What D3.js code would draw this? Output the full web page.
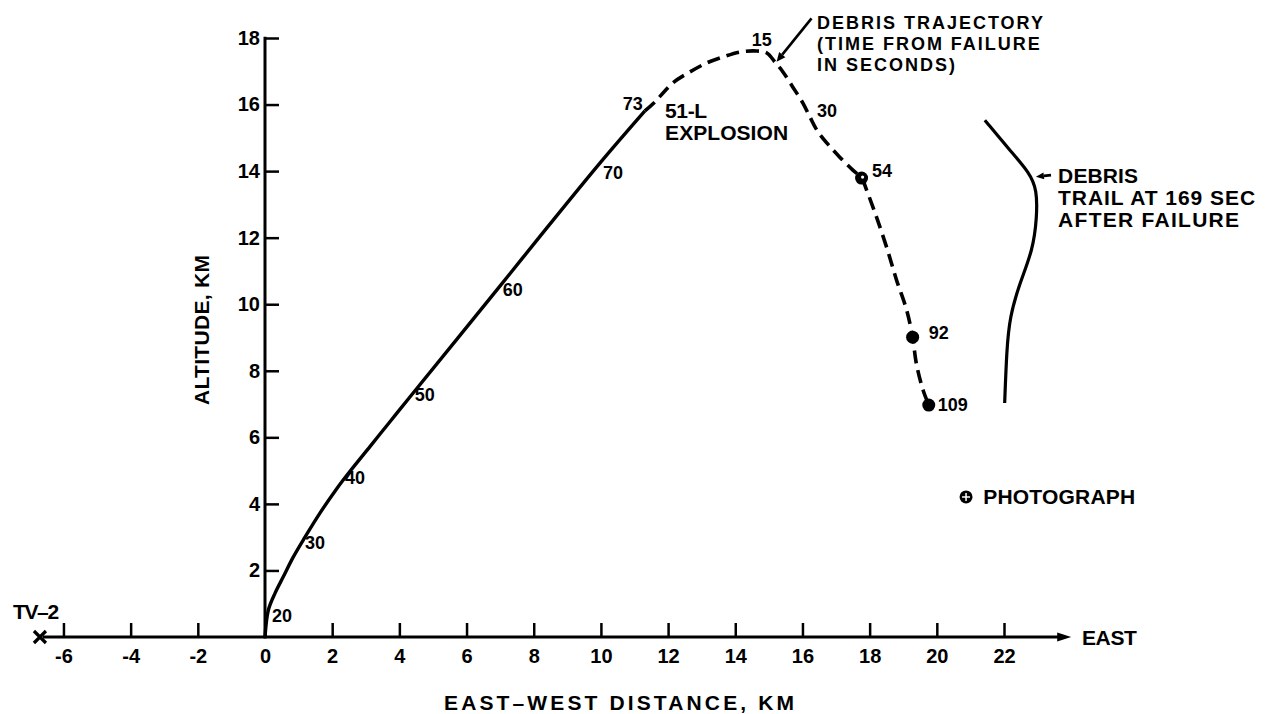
<!DOCTYPE html>
<html><head><meta charset="utf-8">
<script src="https://cdn.jsdelivr.net/npm/d3@7"></script>
<style>
html,body{margin:0;padding:0;background:#fff;}
svg{display:block;background:#fff;}
text{font-family:"Liberation Sans",Arial,Helvetica,sans-serif;font-weight:bold;fill:#000;}
</style></head><body>
<svg id="chart" width="1270" height="714"></svg>
<script>
// ---- data (km) ----
const xTicks = [-6,-4,-2,0,2,4,6,8,10,12,14,16,18,20,22];
const yTicks = [2,4,6,8,10,12,14,16,18];

// 51-L ascent (solid)
const ascentX = [0, 0.1, 0.3, 0.54, 0.84, 1.19, 1.64, 2.13, 2.53, 3.13, 3.72, 4.32, 7.0, 8.18, 9.97, 11.31];
const ascentY = [0, 0.81, 1.32, 1.8, 2.4, 3.0, 3.73, 4.45, 4.98, 5.73, 6.47, 7.22, 10.55, 12.03, 14.24, 15.81];
const ascentTimes = ["20","30","40","50","60","70","73"];
const ascentTimeX = [0.21, 1.19, 2.38, 4.46, 7.08, 10.06, 10.65];
const ascentTimeY = [0.45, 2.64, 4.6, 7.09, 10.25, 13.76, 15.84];

// debris trajectory (dashed)
const debrisX = [11.31, 11.61, 12.14, 12.65, 13.15, 13.63, 14.14, 14.64, 14.94, 15.18, 15.42, 15.71, 16.01, 16.22, 16.43, 16.73, 17.11, 17.5, 17.76, 17.91, 18.2, 18.5, 18.8, 19.1, 19.28, 19.39, 19.59, 19.76];
const debrisY = [15.81, 16.08, 16.65, 16.98, 17.25, 17.43, 17.58, 17.61, 17.55, 17.28, 16.98, 16.53, 16.05, 15.63, 15.23, 14.84, 14.42, 14.03, 13.79, 13.43, 12.63, 11.73, 10.73, 9.83, 9.01, 8.22, 7.42, 6.97];
const debrisTimes = ["15","30","54","92","109"];
const debrisTimeX = [14.49, 16.43, 18.07, 19.76, 20.03];
const debrisTimeY = [17.76, 15.63, 13.82, 8.95, 6.79];
const debrisMarkX = [17.76, 19.28, 19.76];
const debrisMarkY = [13.79, 9.01, 6.97];

// debris trail at 169 s
const trailX = [21.43, 22.17, 22.77, 22.98, 22.98, 22.86, 22.47, 22.17, 22.08, 22.02];
const trailY = [15.53, 14.63, 13.94, 13.43, 12.62, 11.63, 10.64, 9.62, 8.62, 7.03];

const photoX = [20.87], photoY = [4.21];
const tv2X = [-6.7], tv2Y = [0];

// ---- layout ----
const svg = d3.select("#chart");
const x = d3.scaleLinear().domain([0, 22]).range([265, 1004]);
const y = d3.scaleLinear().domain([0, 18]).range([637, 38]);
const FS = 21, TFS = 20, NFS = 18;

// x axis
const xAxis = d3.axisBottom(x).tickValues(xTicks).tickSizeInner(-14).tickSizeOuter(0).tickPadding(12)
  .tickFormat(d => d < 0 ? "-" + Math.abs(d) : String(d));
const gx = svg.append("g").attr("transform", `translate(0,${y(0)})`).call(xAxis);
gx.select(".domain").remove();
gx.selectAll(".tick line").attr("stroke", "#000").attr("stroke-width", 2.5);
gx.selectAll(".tick text").attr("font-size", TFS).attr("font-family", null);

// y axis
const yAxis = d3.axisLeft(y).tickValues(yTicks).tickSizeInner(-14).tickSizeOuter(0).tickPadding(5);
const gy = svg.append("g").attr("transform", `translate(${x(0)},0)`).call(yAxis);
gy.select(".domain").remove();
gy.selectAll(".tick line").attr("stroke", "#000").attr("stroke-width", 2.5);
gy.selectAll(".tick text").attr("font-size", TFS).attr("font-family", null);

// axis lines
const xEnd = 24.0;
svg.append("line").attr("x1", x(tv2X[0]) + 3).attr("x2", x(xEnd) - 6)
  .attr("y1", y(0)).attr("y2", y(0)).attr("stroke", "#000").attr("stroke-width", 3);
svg.append("path")
  .attr("d", `M${x(xEnd)},${y(0)} L${x(xEnd) - 14},${y(0) - 4.5} L${x(xEnd) - 14},${y(0) + 4.5} Z`)
  .attr("fill", "#000");
svg.append("line").attr("x1", x(0)).attr("x2", x(0)).attr("y1", y(0) + 1.5).attr("y2", y(18) - 1.2)
  .attr("stroke", "#000").attr("stroke-width", 3);

// curves
const line = d3.line().x(d => x(d[0])).y(d => y(d[1])).curve(d3.curveCatmullRom.alpha(0.5));
const smooth = d3.line().x(d => x(d[0])).y(d => y(d[1])).curve(d3.curveBasis);
svg.append("path").attr("d", line(d3.zip(ascentX, ascentY)))
  .attr("fill", "none").attr("stroke", "#000").attr("stroke-width", 3.4).attr("stroke-linecap", "butt");
svg.append("path").attr("d", line(d3.zip(debrisX, debrisY)))
  .attr("fill", "none").attr("stroke", "#000").attr("stroke-width", 3.6).attr("stroke-dasharray", "13,7");
svg.append("path").attr("d", smooth(d3.zip(trailX, trailY)))
  .attr("fill", "none").attr("stroke", "#000").attr("stroke-width", 3.2);

// debris markers
svg.selectAll("circle.mark").data(d3.zip(debrisMarkX, debrisMarkY)).join("circle")
  .attr("class", "mark").attr("cx", d => x(d[0])).attr("cy", d => y(d[1])).attr("r", 6.5).attr("fill", "#000");
svg.append("circle").attr("cx", x(debrisMarkX[0]) + 1).attr("cy", y(debrisMarkY[0]) - 1).attr("r", 1.6).attr("fill", "#fff");

// photograph marker
const pg = svg.append("g").attr("transform", `translate(${x(photoX[0])},${y(photoY[0])})`);
pg.append("circle").attr("r", 6.5).attr("fill", "#000");
pg.append("path").attr("d", "M-4,0 H4 M0,-4 V4").attr("stroke", "#fff").attr("stroke-width", 1.5);

// TV-2 marker
const tg = svg.append("g").attr("transform", `translate(${x(tv2X[0])},${y(tv2Y[0])})`);
tg.append("path").attr("d", "M-6,-6 L6,6 M-6,6 L6,-6").attr("stroke", "#000").attr("stroke-width", 3.2);

// time labels
svg.selectAll("text.at").data(d3.zip(ascentTimes, ascentTimeX, ascentTimeY)).join("text")
  .attr("class", "at").attr("x", d => x(d[1])).attr("y", d => y(d[2]))
  .attr("font-size", NFS).text(d => d[0]);
svg.selectAll("text.dt").data(d3.zip(debrisTimes, debrisTimeX, debrisTimeY)).join("text")
  .attr("class", "dt").attr("x", d => x(d[1])).attr("y", d => y(d[2]))
  .attr("font-size", NFS).text(d => d[0]);

// arrows
function arrow(x1, y1, x2, y2, len, half) {
  const a = Math.atan2(y2 - y1, x2 - x1);
  const bx = x2 - len * Math.cos(a), by = y2 - len * Math.sin(a);
  svg.append("line").attr("x1", x1).attr("y1", y1).attr("x2", bx).attr("y2", by)
    .attr("stroke", "#000").attr("stroke-width", 2.6);
  const px = -Math.sin(a) * half, py = Math.cos(a) * half;
  svg.append("path").attr("d", `M${x2},${y2} L${bx + px},${by + py} L${bx - px},${by - py} Z`).attr("fill", "#000");
}
arrow(x(16.27), y(18.59), x(15.23), y(17.29), 9, 4);
arrow(x(23.4), y(13.88), x(22.95), y(13.83), 8, 3.5);

// annotation text
function block(lines, xd, yd, lh, lengths, fs, ls) {
  const t = svg.append("text").attr("x", x(xd)).attr("y", y(yd)).attr("font-size", fs || FS);
  lines.forEach((s, i) => {
    const sp = t.append("tspan").attr("x", x(xd)).attr("dy", i === 0 ? 0 : lh).text(s);
    if (lengths && lengths[i]) sp.attr("textLength", lengths[i]).attr("lengthAdjust", "spacing");
    else if (ls) sp.attr("letter-spacing", ls);
  });
}
block(["DEBRIS TRAJECTORY", "(TIME FROM FAILURE", "IN SECONDS)"], 16.43, 18.28, 21, null, 18, 2);
block(["51-L", "EXPLOSION"], 11.91, 15.6, 22, [42, 123]);
block(["DEBRIS", "TRAIL AT 169 SEC", "AFTER FAILURE"], 23.61, 13.64, 22, [80, 197, 181]);
block(["PHOTOGRAPH"], 21.38, 4.0, 20, [152]);
block(["TV–2"], -7.5, 0.54, 20, [46]);
block(["EAST"], 24.32, -0.24, 20, [55]);

// axis titles
svg.append("text").attr("x", 619).attr("y", 710).attr("text-anchor", "middle")
  .attr("font-size", FS).attr("textLength", 350).attr("lengthAdjust", "spacing")
  .text("EAST–WEST DISTANCE, KM");
svg.append("text").attr("transform", "translate(209,330) rotate(-90)").attr("text-anchor", "middle")
  .attr("font-size", FS).attr("textLength", 150).attr("lengthAdjust", "spacing")
  .text("ALTITUDE, KM");
</script>
</body></html>
